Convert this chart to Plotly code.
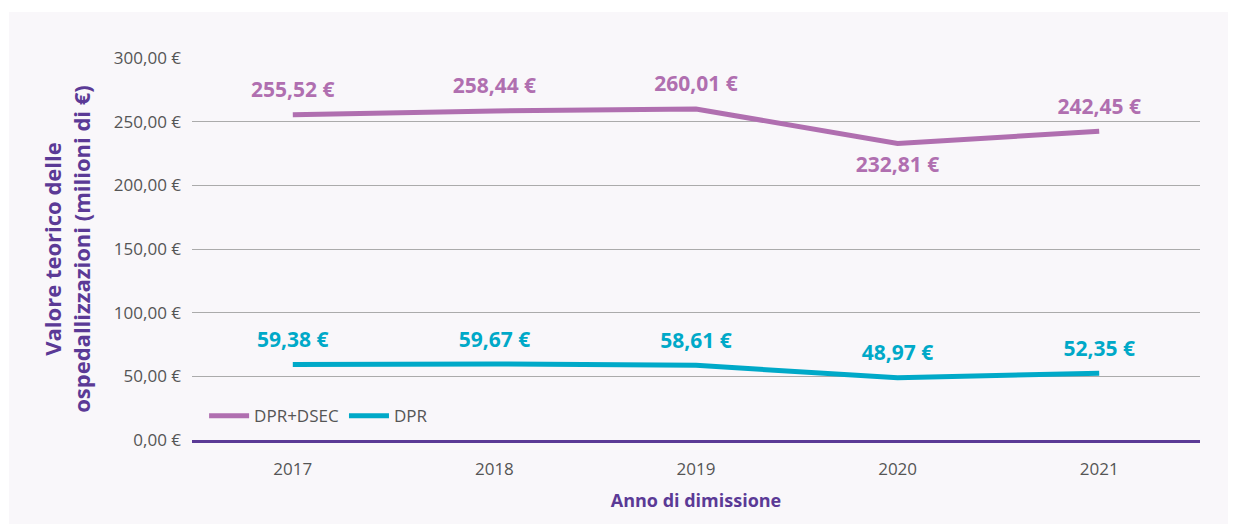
import plotly.graph_objects as go

years = ["2017", "2018", "2019", "2020", "2021"]
dpr_dsec = [255.52, 258.44, 260.01, 232.81, 242.45]
dpr = [59.38, 59.67, 58.61, 48.97, 52.35]
y_ticks = [0, 50, 100, 150, 200, 250, 300]

PURPLE = "#B06FB0"
TEAL = "#00A9C8"
DARK = "#5B3A96"
FONT = "Open Sans"

def fmt(v):
    return f"{v:.2f}".replace(".", ",") + " €"

fig = go.Figure()
fig.add_trace(go.Scatter(
    x=years, y=dpr_dsec, name="DPR+DSEC", mode="lines+markers+text",
    line=dict(color=PURPLE, width=5),
    marker=dict(size=18, color="rgba(0,0,0,0)"),
    text=[fmt(v) for v in dpr_dsec],
    textposition=["top center", "top center", "top center", "bottom center", "top center"],
    textfont=dict(color=PURPLE, size=21, family=FONT, weight="bold"),
    cliponaxis=False,
))
fig.add_trace(go.Scatter(
    x=years, y=dpr, name="DPR", mode="lines+markers+text",
    line=dict(color=TEAL, width=5),
    marker=dict(size=18, color="rgba(0,0,0,0)"),
    text=[fmt(v) for v in dpr],
    textposition="top center",
    textfont=dict(color=TEAL, size=21, family=FONT, weight="bold"),
    cliponaxis=False,
))

fig.add_shape(type="rect", xref="paper", yref="paper",
              x0=-183/1008, x1=1.1, y0=-0.5, y1=1 + 46/382,
              fillcolor="#F9F7FA", line=dict(width=0), layer="below")

fig.update_layout(
    width=1228, height=516,
    margin=dict(l=184, r=36, t=50, b=84),
    paper_bgcolor="white", plot_bgcolor="rgba(0,0,0,0)",
    font=dict(family=FONT, color="#555555"),
    showlegend=True,
    legend=dict(orientation="h", x=0.012, y=0.015, xanchor="left", yanchor="bottom",
                font=dict(size=17, color="#555555", family=FONT),
                itemwidth=40, bgcolor="rgba(0,0,0,0)"),
    xaxis=dict(
        range=[-0.5, 4.5],
        showgrid=False, showline=True, linecolor=DARK, linewidth=2.5,
        tickfont=dict(size=17, color="#555555", family=FONT),
        ticks="", ticklabelstandoff=12,
        title=dict(text="Anno di dimissione", font=dict(size=18, color=DARK, family=FONT, weight="bold"), standoff=16),
    ),
    yaxis=dict(
        range=[0, 300], tickvals=y_ticks, ticktext=[fmt(v) for v in y_ticks],
        showgrid=True, gridcolor="#ABABAB", gridwidth=1, zeroline=False,
        tickfont=dict(size=17, color="#555555", family=FONT),
        ticklabelstandoff=10,
        title=dict(text="Valore teorico delle<br>ospedallizzazioni (milioni di €)",
                   font=dict(size=22, color=DARK, family=FONT, weight="bold"), standoff=17),
    ),
)

fig.write_html("out.html")
